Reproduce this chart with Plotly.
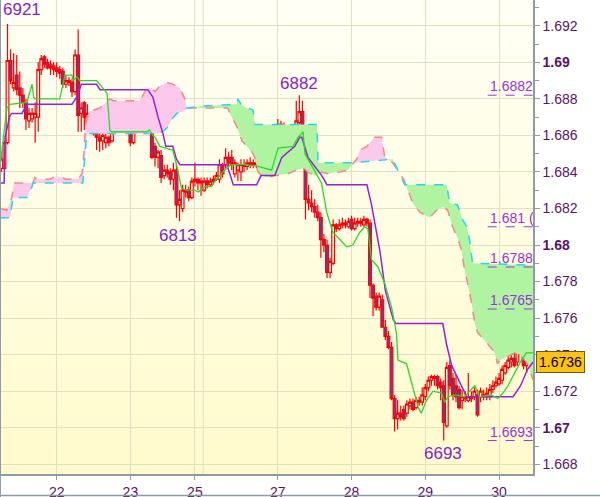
import numpy as np
import plotly.graph_objects as go

# ---------------- data ----------------
bar_idx = list(range(173))

opens = [
    1.6842, 1.6842, 1.6856, 1.6901, 1.6886, 1.6893, 1.6886, 1.6882, 1.6878, 1.6868,
    1.6869, 1.6870, 1.6870, 1.6896, 1.6903, 1.6900, 1.6899, 1.6898, 1.6897, 1.6896,
    1.6895, 1.6888, 1.6890, 1.6889, 1.6884, 1.6904, 1.6872, 1.6878, 1.6865, 1.6871,
    1.6872, 1.6861, 1.6859, 1.6857, 1.6856, 1.6859, 1.6857, 1.6867, 1.6868, 1.6869,
    1.6868, 1.6867, 1.6867, 1.6856, 1.6862, 1.6867, 1.6867, 1.6869, 1.6870, 1.6874,
    1.6854, 1.6848, 1.6849, 1.6838, 1.6841, 1.6840, 1.6836, 1.6841, 1.6822, 1.6820,
    1.6830, 1.6830, 1.6826, 1.6835, 1.6836, 1.6834, 1.6830, 1.6835, 1.6833, 1.6835,
    1.6836, 1.6836, 1.6844, 1.6844, 1.6848, 1.6848, 1.6839, 1.6841, 1.6840, 1.6844,
    1.6843, 1.6845, 1.6844, 1.6845, 1.6847, 1.6842, 1.6844, 1.6842, 1.6841, 1.6844,
    1.6853, 1.6866, 1.6865, 1.6863, 1.6862, 1.6857, 1.6860, 1.6867, 1.6873, 1.6845,
    1.6825, 1.6823, 1.6821, 1.6818, 1.6815, 1.6803, 1.6800, 1.6785, 1.6790, 1.6811,
    1.6809, 1.6811, 1.6812, 1.6810, 1.6814, 1.6809, 1.6812, 1.6813, 1.6811, 1.6814,
    1.6812, 1.6778, 1.6772, 1.6766, 1.6770, 1.6755, 1.6750, 1.6744, 1.6716, 1.6705,
    1.6708, 1.6710, 1.6708, 1.6712, 1.6714, 1.6711, 1.6714, 1.6714, 1.6717, 1.6722,
    1.6726, 1.6728, 1.6728, 1.6725, 1.6723, 1.6701, 1.6734, 1.6727, 1.6723, 1.6721,
    1.6715, 1.6717, 1.6715, 1.6717, 1.6717, 1.6718, 1.6717, 1.6718, 1.6717, 1.6717,
    1.6721, 1.6723, 1.6724, 1.6726, 1.6730, 1.6733, 1.6736, 1.6738, 1.6736, 1.6744,
    1.6756, 1.6734, 1.6735,
]
highs = [
    1.6849, 1.6857, 1.6921, 1.6907, 1.6905, 1.6904, 1.6895, 1.6886, 1.6880, 1.6875,
    1.6875, 1.6878, 1.6900, 1.6904, 1.6904, 1.6902, 1.6901, 1.6900, 1.6900, 1.6898,
    1.6897, 1.6893, 1.6892, 1.6891, 1.6907, 1.6918, 1.6878, 1.6879, 1.6877, 1.6873,
    1.6874, 1.6864, 1.6863, 1.6863, 1.6861, 1.6860, 1.6869, 1.6872, 1.6873, 1.6871,
    1.6870, 1.6869, 1.6868, 1.6865, 1.6869, 1.6870, 1.6874, 1.6874, 1.6875, 1.6875,
    1.6856, 1.6852, 1.6852, 1.6844, 1.6844, 1.6842, 1.6845, 1.6845, 1.6830, 1.6833,
    1.6833, 1.6832, 1.6837, 1.6845, 1.6837, 1.6837, 1.6837, 1.6837, 1.6837, 1.6838,
    1.6840, 1.6847, 1.6845, 1.6853, 1.6851, 1.6852, 1.6847, 1.6845, 1.6847, 1.6847,
    1.6847, 1.6848, 1.6847, 1.6847, 1.6848, 1.6848, 1.6845, 1.6845, 1.6852, 1.6860,
    1.6869, 1.6868, 1.6867, 1.6865, 1.6864, 1.6864, 1.6879, 1.6882, 1.6879, 1.6849,
    1.6833, 1.6830, 1.6825, 1.6822, 1.6818, 1.6806, 1.6803, 1.6793, 1.6814, 1.6812,
    1.6814, 1.6815, 1.6814, 1.6815, 1.6816, 1.6815, 1.6815, 1.6815, 1.6816, 1.6815,
    1.6814, 1.6779, 1.6774, 1.6774, 1.6773, 1.6759, 1.6753, 1.6747, 1.6718, 1.6715,
    1.6712, 1.6712, 1.6715, 1.6716, 1.6716, 1.6717, 1.6717, 1.6722, 1.6724, 1.6728,
    1.6729, 1.6729, 1.6729, 1.6727, 1.6726, 1.6736, 1.6737, 1.6730, 1.6729, 1.6723,
    1.6721, 1.6720, 1.6730, 1.6720, 1.6722, 1.6721, 1.6722, 1.6721, 1.6722, 1.6724,
    1.6726, 1.6728, 1.6730, 1.6734, 1.6736, 1.6739, 1.6740, 1.6741, 1.6758, 1.6758,
    1.6758, 1.6739, 1.6738,
]
lows = [
    1.6840, 1.6841, 1.6855, 1.6888, 1.6884, 1.6882, 1.6875, 1.6875, 1.6863, 1.6864,
    1.6867, 1.6856, 1.6862, 1.6893, 1.6897, 1.6896, 1.6893, 1.6893, 1.6892, 1.6891,
    1.6886, 1.6886, 1.6887, 1.6881, 1.6882, 1.6862, 1.6862, 1.6863, 1.6863, 1.6866,
    1.6860, 1.6852, 1.6851, 1.6852, 1.6853, 1.6854, 1.6856, 1.6863, 1.6866, 1.6865,
    1.6865, 1.6865, 1.6854, 1.6855, 1.6861, 1.6866, 1.6863, 1.6864, 1.6868, 1.6847,
    1.6843, 1.6842, 1.6834, 1.6836, 1.6837, 1.6833, 1.6830, 1.6815, 1.6813, 1.6818,
    1.6826, 1.6824, 1.6825, 1.6832, 1.6830, 1.6827, 1.6829, 1.6831, 1.6832, 1.6833,
    1.6835, 1.6834, 1.6837, 1.6842, 1.6843, 1.6841, 1.6837, 1.6835, 1.6835, 1.6840,
    1.6841, 1.6842, 1.6842, 1.6842, 1.6841, 1.6838, 1.6840, 1.6840, 1.6839, 1.6841,
    1.6852, 1.6860, 1.6860, 1.6860, 1.6856, 1.6856, 1.6859, 1.6866, 1.6844, 1.6814,
    1.6819, 1.6818, 1.6815, 1.6813, 1.6793, 1.6796, 1.6782, 1.6782, 1.6789, 1.6807,
    1.6808, 1.6809, 1.6809, 1.6809, 1.6808, 1.6808, 1.6810, 1.6810, 1.6810, 1.6810,
    1.6771, 1.6761, 1.6764, 1.6764, 1.6755, 1.6748, 1.6743, 1.6715, 1.6698, 1.6699,
    1.6704, 1.6704, 1.6706, 1.6710, 1.6709, 1.6710, 1.6712, 1.6712, 1.6715, 1.6720,
    1.6723, 1.6723, 1.6721, 1.6715, 1.6693, 1.6700, 1.6721, 1.6715, 1.6714, 1.6710,
    1.6710, 1.6714, 1.6714, 1.6714, 1.6715, 1.6706, 1.6714, 1.6715, 1.6715, 1.6715,
    1.6719, 1.6722, 1.6723, 1.6724, 1.6729, 1.6732, 1.6733, 1.6733, 1.6734, 1.6743,
    1.6732, 1.6730, 1.6733,
]
closes = [
    1.6847, 1.6856, 1.6901, 1.6890, 1.6889, 1.6885, 1.6882, 1.6878, 1.6869, 1.6872,
    1.6872, 1.6872, 1.6896, 1.6902, 1.6899, 1.6897, 1.6897, 1.6896, 1.6895, 1.6894,
    1.6888, 1.6890, 1.6889, 1.6884, 1.6904, 1.6871, 1.6875, 1.6870, 1.6872, 1.6868,
    1.6861, 1.6859, 1.6857, 1.6860, 1.6859, 1.6856, 1.6867, 1.6869, 1.6869, 1.6868,
    1.6867, 1.6866, 1.6856, 1.6863, 1.6867, 1.6868, 1.6871, 1.6871, 1.6874, 1.6848,
    1.6848, 1.6851, 1.6837, 1.6841, 1.6839, 1.6836, 1.6841, 1.6822, 1.6825, 1.6830,
    1.6829, 1.6826, 1.6835, 1.6836, 1.6834, 1.6835, 1.6835, 1.6833, 1.6835, 1.6836,
    1.6838, 1.6844, 1.6839, 1.6848, 1.6845, 1.6844, 1.6845, 1.6844, 1.6844, 1.6843,
    1.6845, 1.6844, 1.6845, 1.6844, 1.6844, 1.6845, 1.6842, 1.6843, 1.6849, 1.6853,
    1.6866, 1.6865, 1.6862, 1.6862, 1.6857, 1.6860, 1.6868, 1.6873, 1.6845, 1.6825,
    1.6823, 1.6821, 1.6818, 1.6815, 1.6803, 1.6800, 1.6785, 1.6791, 1.6811, 1.6809,
    1.6811, 1.6812, 1.6811, 1.6813, 1.6809, 1.6812, 1.6813, 1.6812, 1.6814, 1.6812,
    1.6778, 1.6771, 1.6766, 1.6772, 1.6755, 1.6750, 1.6744, 1.6716, 1.6705, 1.6708,
    1.6706, 1.6705, 1.6713, 1.6714, 1.6710, 1.6715, 1.6715, 1.6718, 1.6722, 1.6726,
    1.6728, 1.6727, 1.6723, 1.6722, 1.6703, 1.6733, 1.6723, 1.6718, 1.6717, 1.6711,
    1.6717, 1.6716, 1.6717, 1.6716, 1.6720, 1.6707, 1.6720, 1.6717, 1.6719, 1.6721,
    1.6723, 1.6725, 1.6727, 1.6732, 1.6734, 1.6737, 1.6738, 1.6734, 1.6744, 1.6756,
    1.6734, 1.6736, 1.6736,
]

tenkan_x = [-0.5, 1.8, 2.8, 8.3, 8.8, 10, 10.5, 11, 19, 20.7, 23, 23.3, 24.6, 25.6, 26, 31,
            34.4, 35.3, 35.8, 47.4, 48.2, 49.3, 50, 51.6, 55.8, 57, 58.7, 60.3, 63, 64.1,
            66.2, 68.4, 70, 71.7, 73.3, 74.9, 79.2, 83.6, 85.8, 88, 89, 90.1, 95, 96.6,
            97.7, 98.2, 98.8, 104.2, 105.9, 107.9, 110.2, 112.4, 114.4, 116.7, 118.3, 119.3,
            120.5, 122.6, 124.8, 127, 128.6, 129.1, 131.9, 134, 135.7, 136.7, 138.4, 140.5,
            143.3, 144.3, 145.4, 147.6, 150.8, 152.4, 154.1, 155.6, 159.5, 161.6, 163.3,
            164.9, 167.1, 169.3, 170.9, 173.1]
tenkan_y = [1.6842, 1.6875, 1.6877, 1.6878, 1.6881, 1.6888, 1.6881, 1.6880, 1.6880, 1.6893,
            1.6893, 1.6890, 1.6892, 1.6890, 1.6890, 1.6890, 1.6883, 1.6863, 1.6862, 1.6862,
            1.6863, 1.6860, 1.6859, 1.6854, 1.6852, 1.6844, 1.6831, 1.6830, 1.6830, 1.6829,
            1.6832, 1.6832, 1.6836, 1.6839, 1.6842, 1.6844, 1.6844, 1.6843, 1.6842, 1.6841,
            1.6847, 1.6853, 1.6854, 1.6859, 1.6861, 1.6862, 1.6850, 1.6834, 1.6818, 1.6807,
            1.6803, 1.6799, 1.6800, 1.6807, 1.6810, 1.6809, 1.6792, 1.6788, 1.6779, 1.6766,
            1.6752, 1.6737, 1.6735, 1.6722, 1.6711, 1.6708, 1.6715, 1.6720, 1.6719, 1.6714,
            1.6717, 1.6718, 1.6717, 1.6720, 1.6723, 1.6717, 1.6718, 1.6716, 1.6719, 1.6723,
            1.6730, 1.6737, 1.6741, 1.6741]

kijun_x = [-0.5, 0.9, 1.2, 2.8, 3.4, 6.7, 8.3, 23, 24.9, 26, 31, 32.1, 47.7, 49.3, 51, 52.6,
           53.5, 55.8, 57, 58.1, 73.4, 75.5, 83.1, 84.5, 89, 91.3, 95.5, 97.2, 97.8, 99.8,
           104.3, 106, 119, 120.5, 123.2, 125, 127.6, 128.5, 143.7, 145, 146.6, 151.5, 166.6,
           169, 171.3, 173.1]
kijun_y = [1.6834, 1.6834, 1.6859, 1.6871, 1.6872, 1.6872, 1.6877, 1.6877, 1.6882, 1.6888,
           1.6888, 1.6885, 1.6885, 1.6881, 1.6870, 1.6861, 1.6854, 1.6854, 1.6847, 1.6844,
           1.6844, 1.6833, 1.6833, 1.6838, 1.6838, 1.6848, 1.6854, 1.6859, 1.6859, 1.6848,
           1.6838, 1.6833, 1.6833, 1.6822, 1.6797, 1.6775, 1.6759, 1.6757, 1.6757, 1.6745,
           1.6734, 1.6717, 1.6717, 1.6723, 1.6732, 1.6736]

span_a_x = [-0.5, 1.8, 3.4, 4.1, 10.3, 10.9, 11.6, 15.8, 16.8, 20, 21, 24.9, 26.2, 26.6, 27.4,
            28.5, 32.1, 34.4, 35.3, 36.5, 38.6, 45.1, 46.1, 47.4, 48.8, 50, 51.6, 53.9, 55.8,
            58.1, 59.7, 60.4, 64.6, 70, 73.7, 74.4, 76.6, 78.3, 79.9, 81.5, 82.5, 83.5, 84.8,
            86.7, 89, 93.2, 96, 98.5, 99.7, 102, 104.3, 106.2, 110, 112.8, 114.1, 115.7, 116.7,
            119, 121.5, 123.8, 124.8, 125.8, 127.4, 129.7, 131, 133.9, 136.2, 139.4, 141.7,
            143.7, 145.3, 146.9, 148.5, 149.8, 150.8, 151.8, 153.1, 154.1, 155.1, 158.3, 160.6,
            161.5, 162.2, 164.8, 167.1, 169, 171.3, 173.1]
span_a_y = [1.6820, 1.6819, 1.6826, 1.6834, 1.6834, 1.6837, 1.6836, 1.6836, 1.6837, 1.6837,
            1.6836, 1.6836, 1.6839, 1.6843, 1.6866, 1.6873, 1.6875, 1.6879, 1.6880, 1.6879,
            1.6879, 1.6879, 1.6882, 1.6886, 1.6886, 1.6884, 1.6887, 1.6889, 1.6888, 1.6886,
            1.6880, 1.6875, 1.6875, 1.6875, 1.6875, 1.6872, 1.6865, 1.6857, 1.6854, 1.6851,
            1.6848, 1.6840, 1.6838, 1.6837, 1.6838, 1.6839, 1.6841, 1.6842, 1.6840, 1.6838,
            1.6840, 1.6839, 1.6840, 1.6841, 1.6844, 1.6847, 1.6852, 1.6854, 1.6859, 1.6859,
            1.6848, 1.6847, 1.6845, 1.6839, 1.6836, 1.6823, 1.6818, 1.6815, 1.6819, 1.6821,
            1.6819, 1.6810, 1.6804, 1.6797, 1.6786, 1.6779, 1.6768, 1.6757, 1.6752, 1.6746,
            1.6741, 1.6735, 1.6737, 1.6739, 1.6741, 1.6740, 1.6735, 1.6726]

span_b_x = [-0.5, 2.8, 3.8, 8.3, 10, 10.3, 26.5, 27.2, 27.8, 51.6, 53.9, 55.5, 57.1, 59.1, 60.4,
            64.6, 76.6, 77, 78, 79.9, 81.9, 82.5, 102.7, 103.1, 114.1, 127.4, 129.7, 131.3, 145,
            145.9, 148.5, 149.8, 151.5, 152.4, 153.4, 173.1]
span_b_y = [1.6815, 1.6815, 1.6826, 1.6826, 1.6832, 1.6834, 1.6834, 1.6847, 1.6861, 1.6861,
            1.6864, 1.6869, 1.6872, 1.6873, 1.6875, 1.6876, 1.6877, 1.6880, 1.6877, 1.6875,
            1.6874, 1.6866, 1.6866, 1.6845, 1.6845, 1.6847, 1.6839, 1.6833, 1.6833, 1.6823,
            1.6822, 1.6815, 1.6810, 1.6803, 1.6790, 1.6789]

day_ticks = [18, 42, 63, 90, 114, 138, 162]
day_labels = ["22", "23", "25", "27", "28", "29", "30"]
day26_tick = 65.7

price_ticks = [1.668, 1.670, 1.672, 1.674, 1.676, 1.678, 1.680, 1.682, 1.684, 1.686,
               1.688, 1.690, 1.692]
price_labels = ["1.668", "<b>1.67</b>", "1.672", "1.674", "1.676", "1.678", "<b>1.68</b>",
                "1.682", "1.684", "1.686", "1.688", "<b>1.69</b>", "1.692"]
price_minor = [1.667, 1.669, 1.671, 1.673, 1.675, 1.677, 1.679, 1.681, 1.683, 1.685,
               1.687, 1.689, 1.691, 1.693]

extreme_labels = ["6921", "6882", "6813", "6693"]
extreme_x = [-0.12, 96.8, 57.5, 143.7]
extreme_y = [1.6921, 1.6882, 1.6813, 1.6693]

level_values = [1.6882, 1.6810, 1.6788, 1.6765, 1.6693]
level_labels = ["1.6882", "1.681 (", "1.6788", "1.6765", "1.6693"]
level_start = 158.3
last_price = 1.6736

# ---------------- styling ----------------
X_RANGE = [-0.12, 173.06]
Y_RANGE = [1.66747, 1.69341]
FONT = "Liberation Sans, Arial, sans-serif"
AXIS_TXT = "#5A1466"
VIOLET = "#8A22CC"
LEVEL_C = "#9A34DA"
GRID = "#E2E0C4"
AXLINE = "#8E9CA8"
PINK = "#FCC8EC"
GREEN = "#B0F4A2"

fig = go.Figure()

# gradient background of plot area
n_b = 40
top_c = np.array([255, 255, 246])
bot_c = np.array([255, 251, 204])
shapes = []
for k in range(n_b):
    t = (k + 0.5) / n_b
    c = top_c * (1 - t) + bot_c * t
    shapes.append(dict(type="rect", xref="paper", yref="paper", x0=0, x1=1,
                       y0=1 - (k + 1) / n_b, y1=1 - k / n_b + 0.001,
                       fillcolor="rgb(%d,%d,%d)" % tuple(c.round()), line=dict(width=0),
                       layer="below"))
# day-26 grid line (unlabelled)
shapes.append(dict(type="line", xref="x", yref="paper", x0=day26_tick, x1=day26_tick,
                   y0=0, y1=1, line=dict(color=GRID, width=1), layer="below"))
# outer border lines (left & bottom of image)
shapes.append(dict(type="line", xref="paper", yref="paper", x0=-0.0015, x1=-0.0015,
                   y0=-0.05, y1=1, line=dict(color=AXLINE, width=1.5), layer="above"))
shapes.append(dict(type="line", xref="paper", yref="paper", x0=-0.01, x1=1.13,
                   y0=-0.0455, y1=-0.0455, line=dict(color=AXLINE, width=1.5), layer="above"))


# --- cloud fill between span A and span B ---
def cloud_polygons(xa, ya, xb, yb):
    grid = np.union1d(np.asarray(xa, float), np.asarray(xb, float))
    a = np.interp(grid, xa, ya)
    b = np.interp(grid, xb, yb)
    xs, as_, bs = [grid[0]], [a[0]], [b[0]]
    for i in range(1, len(grid)):
        d0 = a[i - 1] - b[i - 1]
        d1 = a[i] - b[i]
        if d0 * d1 < 0:
            t = d0 / (d0 - d1)
            xc = grid[i - 1] + t * (grid[i] - grid[i - 1])
            yc = a[i - 1] + t * (a[i] - a[i - 1])
            xs.append(xc); as_.append(yc); bs.append(yc)
        xs.append(grid[i]); as_.append(a[i]); bs.append(b[i])
    xs, as_, bs = map(np.array, (xs, as_, bs))
    polys = []
    sign = np.sign(as_ - bs)
    start = 0
    cur = None
    for i in range(len(xs)):
        s = sign[i]
        if s == 0:
            if cur is not None:
                polys.append((cur, start, i))
                cur = None
            start = i
            continue
        if cur is None:
            cur = s
        elif s != cur:
            polys.append((cur, start, i))
            cur = s
            start = i
    if cur is not None:
        polys.append((cur, start, len(xs) - 1))
    out = []
    for s, i0, i1 in polys:
        px = list(xs[i0:i1 + 1]) + list(xs[i0:i1 + 1][::-1])
        py = list(as_[i0:i1 + 1]) + list(bs[i0:i1 + 1][::-1])
        out.append((s, px, py))
    return out


for s, px, py in cloud_polygons(span_a_x, span_a_y, span_b_x, span_b_y):
    fig.add_trace(go.Scatter(x=px, y=py, mode="lines", fill="toself",
                             fillcolor=PINK if s > 0 else GREEN,
                             line=dict(width=0), hoverinfo="skip", showlegend=False))

fig.add_trace(go.Scatter(x=span_a_x, y=span_a_y, mode="lines",
                         line=dict(color="#F08A8A", width=1.5, dash="dash"),
                         hoverinfo="skip", showlegend=False))
fig.add_trace(go.Scatter(x=span_b_x, y=span_b_y, mode="lines",
                         line=dict(color="#22D8EE", width=1.5, dash="dash"),
                         hoverinfo="skip", showlegend=False))
fig.add_trace(go.Scatter(x=kijun_x, y=kijun_y, mode="lines",
                         line=dict(color="#9B1FD6", width=1.5),
                         hoverinfo="skip", showlegend=False))
fig.add_trace(go.Scatter(x=tenkan_x, y=tenkan_y, mode="lines",
                         line=dict(color="#2AD82A", width=1.3),
                         hoverinfo="skip", showlegend=False))

fig.add_trace(go.Candlestick(
    x=bar_idx, open=opens, high=highs, low=lows, close=closes,
    increasing=dict(line=dict(color="#FF0000", width=1.2), fillcolor="rgba(0,0,0,0)"),
    decreasing=dict(line=dict(color="#FF0000", width=1.2), fillcolor="#6A3D9A"),
    whiskerwidth=0, hoverinfo="skip", showlegend=False))

# level dashed lines
lx, ly = [], []
for v in level_values:
    lx += [level_start, X_RANGE[1], None]
    ly += [v, v, None]
fig.add_trace(go.Scatter(x=lx, y=ly, mode="lines",
                         line=dict(color=LEVEL_C, width=1, dash="dash"),
                         hoverinfo="skip", showlegend=False))

annotations = []
for v, lab in zip(level_values, level_labels):
    annotations.append(dict(x=level_start + 0.2, y=v, xref="x", yref="y", text=lab,
                            showarrow=False, xanchor="left", yanchor="bottom", yshift=-1,
                            font=dict(family=FONT, size=14, color=LEVEL_C)))

for i, (lab, ex, ey) in enumerate(zip(extreme_labels, extreme_x, extreme_y)):
    if i == 0:
        annotations.append(dict(x=ex, y=1, xref="x", yref="paper", text=lab,
                                showarrow=False, xanchor="left", yanchor="top", yshift=2,
                                font=dict(family=FONT, size=17, color=VIOLET)))
    elif i == 1:
        annotations.append(dict(x=ex, y=ey, xref="x", yref="y", text=lab,
                                showarrow=False, xanchor="center", yanchor="bottom", yshift=0,
                                font=dict(family=FONT, size=17, color=VIOLET)))
    else:
        annotations.append(dict(x=ex, y=ey, xref="x", yref="y", text=lab,
                                showarrow=False, xanchor="center", yanchor="top",
                                yshift=-3 if i == 2 else -1,
                                font=dict(family=FONT, size=17, color=VIOLET)))

annotations.append(dict(x=1, y=last_price, xref="paper", yref="y", text=str(last_price),
                        showarrow=False, xanchor="left", yanchor="middle", xshift=3,
                        bgcolor="#FFC20E", bordercolor="#6A5A20", borderwidth=1, borderpad=2,
                        font=dict(family=FONT, size=14, color="#000000")))

fig.update_layout(
    width=600, height=497, autosize=False,
    margin=dict(l=1, r=67, t=0, b=23, pad=0, autoexpand=False),
    paper_bgcolor="#FFFFFF", plot_bgcolor="#FFFCD8",
    showlegend=False, boxgap=0.1, boxgroupgap=0,
    shapes=shapes, annotations=annotations,
    font=dict(family=FONT, size=14, color=AXIS_TXT),
    xaxis=dict(range=X_RANGE, tickmode="array", tickvals=day_ticks, ticktext=day_labels,
               automargin=False,
               showgrid=True, gridcolor=GRID, gridwidth=1, zeroline=False,
               showline=True, linecolor=AXLINE, linewidth=1.5,
               ticks="outside", ticklen=4, tickcolor=AXLINE,
               tickfont=dict(family=FONT, size=14, color=AXIS_TXT),
               rangeslider=dict(visible=False), fixedrange=True),
    yaxis=dict(range=Y_RANGE, side="right", tickmode="array", tickvals=price_ticks,
               ticktext=price_labels, showgrid=True, gridcolor=GRID, gridwidth=1,
               automargin=False,
               zeroline=False, showline=True, mirror=True, linecolor=AXLINE, linewidth=1.5,
               ticks="outside", ticklen=5, tickcolor=AXLINE,
               minor=dict(tickvals=price_minor, ticks="outside", ticklen=4,
                          tickcolor=AXLINE, showgrid=False),
               tickfont=dict(family=FONT, size=14, color=AXIS_TXT), fixedrange=True),
)

fig.write_html("out.html", config={"displayModeBar": False},
               post_script="document.body.style.margin='0';document.body.style.padding='0';")
